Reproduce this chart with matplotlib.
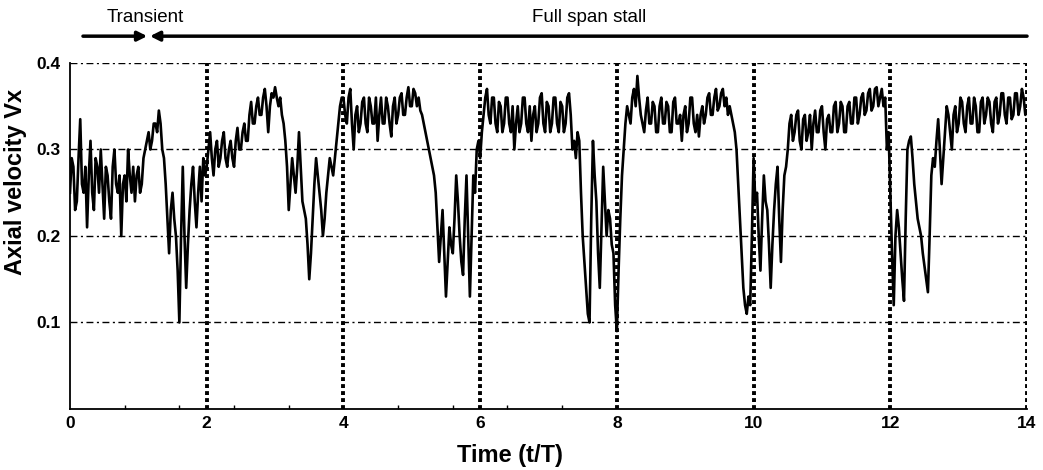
import numpy as np
import matplotlib
matplotlib.use("Agg")
import matplotlib.pyplot as plt

# Axial velocity samples, 80 samples per 2 t/T (dt = 0.025)
seg_0_2 = [0.25, 0.29, 0.28, 0.23, 0.24, 0.29, 0.335, 0.26, 0.25, 0.28, 0.21, 0.27, 0.31, 0.25, 0.23, 0.29, 0.28, 0.25, 0.30, 0.26,
           0.22, 0.28, 0.27, 0.24, 0.22, 0.28, 0.30, 0.26, 0.25, 0.27, 0.20, 0.26, 0.27, 0.24, 0.30, 0.27, 0.25, 0.28, 0.24, 0.27,
           0.28, 0.25, 0.26, 0.29, 0.30, 0.31, 0.32, 0.30, 0.31, 0.33, 0.33, 0.32, 0.345, 0.33, 0.30, 0.29, 0.26, 0.22, 0.18, 0.23,
           0.25, 0.22, 0.20, 0.16, 0.10, 0.20, 0.28, 0.20, 0.14, 0.19, 0.23, 0.26, 0.28, 0.24, 0.21, 0.25, 0.28, 0.24, 0.29, 0.27]
seg_2_4 = [0.28, 0.30, 0.32, 0.29, 0.27, 0.30, 0.31, 0.28, 0.29, 0.31, 0.32, 0.29, 0.28, 0.30, 0.31, 0.29, 0.28, 0.31, 0.325, 0.30,
           0.30, 0.32, 0.33, 0.31, 0.31, 0.34, 0.355, 0.33, 0.33, 0.35, 0.36, 0.34, 0.34, 0.36, 0.37, 0.35, 0.32, 0.35, 0.365, 0.36,
           0.372, 0.36, 0.35, 0.36, 0.34, 0.33, 0.31, 0.28, 0.23, 0.26, 0.29, 0.27, 0.25, 0.28, 0.32, 0.28, 0.24, 0.23, 0.22, 0.19,
           0.15, 0.18, 0.22, 0.26, 0.29, 0.27, 0.25, 0.23, 0.20, 0.22, 0.25, 0.27, 0.29, 0.28, 0.27, 0.29, 0.31, 0.33, 0.35, 0.36]
seg_4_6 = [0.36, 0.34, 0.33, 0.36, 0.37, 0.33, 0.30, 0.34, 0.35, 0.32, 0.33, 0.355, 0.36, 0.33, 0.32, 0.36, 0.35, 0.33, 0.33, 0.36,
           0.31, 0.34, 0.36, 0.33, 0.33, 0.36, 0.35, 0.33, 0.315, 0.35, 0.36, 0.33, 0.34, 0.36, 0.365, 0.34, 0.34, 0.36, 0.372, 0.35,
           0.35, 0.37, 0.365, 0.35, 0.36, 0.345, 0.34, 0.33, 0.32, 0.31, 0.30, 0.29, 0.28, 0.27, 0.25, 0.21, 0.17, 0.20, 0.23, 0.18,
           0.13, 0.17, 0.21, 0.19, 0.18, 0.22, 0.27, 0.24, 0.20, 0.17, 0.155, 0.22, 0.27, 0.20, 0.13, 0.20, 0.27, 0.25, 0.30, 0.31]
seg_6_8 = [0.29, 0.32, 0.34, 0.36, 0.37, 0.34, 0.33, 0.36, 0.36, 0.33, 0.32, 0.355, 0.35, 0.32, 0.33, 0.36, 0.36, 0.33, 0.32, 0.35,
           0.30, 0.33, 0.35, 0.32, 0.33, 0.36, 0.36, 0.33, 0.32, 0.35, 0.31, 0.34, 0.35, 0.32, 0.33, 0.36, 0.365, 0.33, 0.32, 0.355,
           0.35, 0.32, 0.33, 0.36, 0.36, 0.33, 0.32, 0.355, 0.35, 0.32, 0.33, 0.36, 0.365, 0.34, 0.30, 0.31, 0.29, 0.32, 0.31, 0.25,
           0.20, 0.17, 0.14, 0.11, 0.10, 0.22, 0.31, 0.27, 0.24, 0.18, 0.14, 0.21, 0.28, 0.24, 0.20, 0.23, 0.22, 0.19, 0.18, 0.12]
seg_8_10 = [0.09, 0.16, 0.22, 0.27, 0.30, 0.33, 0.35, 0.34, 0.33, 0.36, 0.37, 0.35, 0.385, 0.36, 0.34, 0.33, 0.32, 0.345, 0.36, 0.33,
            0.33, 0.355, 0.35, 0.32, 0.32, 0.35, 0.36, 0.33, 0.33, 0.355, 0.35, 0.32, 0.32, 0.355, 0.36, 0.33, 0.33, 0.34, 0.31, 0.34,
            0.35, 0.32, 0.33, 0.36, 0.36, 0.33, 0.32, 0.34, 0.315, 0.34, 0.35, 0.33, 0.34, 0.36, 0.365, 0.34, 0.34, 0.36, 0.37, 0.345,
            0.35, 0.365, 0.37, 0.35, 0.36, 0.34, 0.35, 0.34, 0.33, 0.32, 0.30, 0.26, 0.22, 0.18, 0.14, 0.12, 0.11, 0.13, 0.12, 0.20]
seg_10_12 = [0.29, 0.24, 0.25, 0.20, 0.16, 0.22, 0.27, 0.24, 0.23, 0.19, 0.14, 0.19, 0.23, 0.26, 0.28, 0.22, 0.17, 0.23, 0.27, 0.28,
             0.30, 0.33, 0.34, 0.31, 0.32, 0.34, 0.345, 0.31, 0.30, 0.335, 0.34, 0.31, 0.32, 0.34, 0.30, 0.33, 0.345, 0.32, 0.32, 0.345,
             0.35, 0.32, 0.30, 0.335, 0.34, 0.32, 0.32, 0.35, 0.355, 0.32, 0.33, 0.355, 0.35, 0.32, 0.32, 0.35, 0.355, 0.33, 0.33, 0.36,
             0.36, 0.33, 0.34, 0.36, 0.365, 0.34, 0.345, 0.365, 0.37, 0.345, 0.35, 0.37, 0.372, 0.35, 0.36, 0.37, 0.35, 0.36, 0.30, 0.32]
seg_12_14 = [0.25, 0.18, 0.12, 0.20, 0.23, 0.21, 0.18, 0.15, 0.125, 0.22, 0.30, 0.31, 0.315, 0.29, 0.26, 0.24, 0.22, 0.21, 0.20, 0.18,
             0.165, 0.15, 0.135, 0.20, 0.27, 0.29, 0.28, 0.31, 0.335, 0.30, 0.26, 0.29, 0.32, 0.35, 0.34, 0.32, 0.30, 0.34, 0.35, 0.32,
             0.33, 0.36, 0.355, 0.33, 0.32, 0.35, 0.36, 0.33, 0.33, 0.36, 0.35, 0.32, 0.32, 0.355, 0.36, 0.33, 0.34, 0.36, 0.355, 0.33,
             0.32, 0.355, 0.36, 0.33, 0.34, 0.365, 0.365, 0.34, 0.33, 0.36, 0.36, 0.335, 0.34, 0.365, 0.365, 0.34, 0.35, 0.37, 0.36, 0.34,
             0.345]

vx = np.array(seg_0_2 + seg_2_4 + seg_4_6 + seg_6_8 + seg_8_10 + seg_10_12 + seg_12_14)
t = np.arange(len(vx)) * 0.025

x_ticks = [0, 2, 4, 6, 8, 10, 12, 14]
y_ticks = [0.1, 0.2, 0.3, 0.4]
y_labels = ['0.1', '0.2', '0.3', '0.4']
stall_marks = [2, 4, 6, 8, 10, 12, 14]

fig = plt.figure(figsize=(10.43, 4.70), dpi=100)
ax = fig.add_axes([0.0671, 0.1298, 0.9176, 0.7362])

bold = dict(family=['Liberation Sans', 'DejaVu Sans'], weight='bold')

# dash-dot horizontal grid
for yv in y_ticks:
    ax.axhline(yv, color='black', lw=1.0, dashes=(5, 2.5, 1.5, 2.5), zorder=1)

# thick dotted lines at each period
for xv in stall_marks:
    ax.axvline(xv, color='black', lw=2.8, dashes=(1, 0.8), zorder=3)

ax.plot(t, vx, color='black', lw=1.9, zorder=2)

ax.set_xlim(0, 14)
ax.set_ylim(0, 0.4)
ax.set_xticks(x_ticks)
ax.set_xticklabels([str(v) for v in x_ticks], fontsize=12.5, **bold)
ax.set_yticks(y_ticks)
ax.set_yticklabels(y_labels, fontsize=12.5, **bold)
ax.set_xticks(np.arange(0.8, 8.0, 0.8), minor=True)
ax.tick_params(axis='x', which='major', length=0, pad=5)
ax.tick_params(axis='y', which='major', length=0, pad=7)
ax.tick_params(axis='x', which='minor', direction='in', length=3, width=1)

for side in ['top', 'right']:
    ax.spines[side].set_visible(False)
for side in ['left', 'bottom']:
    ax.spines[side].set_linewidth(1.3)

ax.set_xlabel('Time (t/T)', fontsize=17, **bold)
ax.set_ylabel('Axial velocity Vx', fontsize=17, **bold)
ax.xaxis.set_label_coords(0.46, -0.10)
ax.yaxis.set_label_coords(-0.045, 0.655)

# regime arrows above the plot
arrow_y = 0.431
split = 1.13
ax.annotate('', xy=(split, arrow_y), xytext=(0.19, arrow_y),
            arrowprops=dict(arrowstyle='-|>', lw=2.5, color='black',
                            mutation_scale=14, shrinkA=0, shrinkB=0),
            annotation_clip=False)
ax.annotate('', xy=(split + 0.04, arrow_y), xytext=(14.0, arrow_y),
            arrowprops=dict(arrowstyle='-|>', lw=2.5, color='black',
                            mutation_scale=14, shrinkA=0, shrinkB=0),
            annotation_clip=False)
ax.text(1.1, 0.443, 'Transient', ha='center', va='bottom', fontsize=13.5,
        family=['Liberation Sans', 'DejaVu Sans'], clip_on=False)
ax.text(7.6, 0.443, 'Full span stall', ha='center', va='bottom', fontsize=13.5,
        family=['Liberation Sans', 'DejaVu Sans'], clip_on=False)

fig.savefig('out.png', dpi=100)
